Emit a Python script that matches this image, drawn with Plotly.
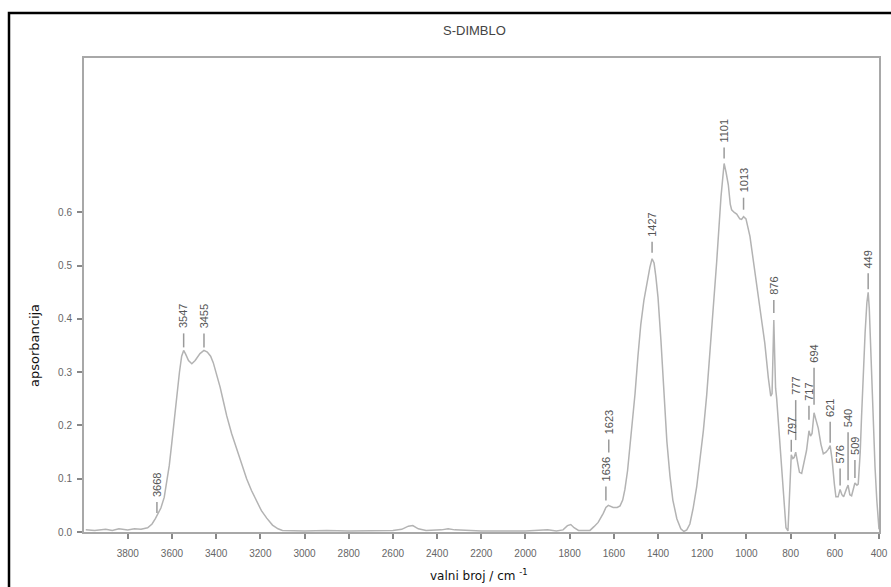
import numpy as np
import plotly.graph_objects as go

# ---------------- data ----------------
wavenumber = [3990, 3950, 3900, 3870, 3840, 3800, 3770, 3740, 3710, 3690, 3675, 3665, 3650, 3635,
              3624, 3612, 3601, 3590, 3578, 3566, 3556, 3547, 3538, 3525, 3510, 3495, 3473, 3455,
              3440, 3425, 3413, 3398, 3382, 3367, 3352, 3330, 3307, 3285, 3262, 3240, 3216, 3195,
              3171, 3145, 3120, 3100, 3000, 2900, 2800, 2700, 2600, 2560, 2530, 2510, 2485, 2450,
              2380, 2350, 2320, 2200, 2100, 2000, 1900, 1860, 1830, 1810, 1795, 1780, 1760, 1730,
              1708, 1690, 1671, 1648, 1636, 1625, 1615, 1603, 1585, 1572, 1560, 1550, 1538, 1527,
              1515, 1504, 1491, 1478, 1464, 1450, 1437, 1427, 1418, 1410, 1400, 1387, 1373, 1360,
              1346, 1333, 1315, 1297, 1283, 1270, 1256, 1241, 1225, 1210, 1195, 1180, 1157, 1135,
              1115, 1101, 1092, 1082, 1073, 1067, 1055, 1044, 1030, 1022, 1013, 1002, 984, 962,
              939, 917, 901, 890, 884, 880, 876, 872, 868, 863, 848, 833, 821, 812, 805, 800,
              797, 790, 784, 777, 770, 760, 750, 740, 728, 717, 710, 703, 694, 685, 675, 663,
              652, 640, 630, 621, 612, 602, 595, 585, 576, 568, 560, 548, 540, 532, 524, 509,
              500, 494, 485, 479, 471, 463, 455, 449, 444, 438, 433, 425, 418, 410, 403, 400]
absorbance = [0.004, 0.003, 0.005, 0.003, 0.006, 0.004, 0.006, 0.005, 0.008, 0.015, 0.025, 0.032, 0.045, 0.065,
              0.090, 0.125, 0.166, 0.210, 0.254, 0.300, 0.330, 0.341, 0.334, 0.322, 0.316, 0.322, 0.335, 0.341,
              0.338, 0.330, 0.318, 0.298, 0.272, 0.245, 0.218, 0.185, 0.155, 0.128, 0.100, 0.078, 0.056, 0.040,
              0.026, 0.013, 0.006, 0.003, 0.002, 0.003, 0.002, 0.002, 0.003, 0.005, 0.011, 0.012, 0.006, 0.003,
              0.004, 0.006, 0.004, 0.002, 0.002, 0.002, 0.004, 0.002, 0.004, 0.012, 0.014, 0.008, 0.003, 0.003,
              0.003, 0.010, 0.018, 0.035, 0.046, 0.050, 0.048, 0.046, 0.046, 0.049, 0.060, 0.080, 0.115, 0.160,
              0.210, 0.260, 0.330, 0.390, 0.435, 0.470, 0.497, 0.513, 0.505, 0.480, 0.440, 0.360, 0.260, 0.170,
              0.105, 0.060, 0.025, 0.006, 0.001, 0.004, 0.015, 0.045, 0.085, 0.135, 0.190, 0.256, 0.380, 0.505,
              0.630, 0.692, 0.675, 0.652, 0.615, 0.605, 0.600, 0.597, 0.588, 0.587, 0.592, 0.588, 0.555, 0.490,
              0.430, 0.355, 0.290, 0.255, 0.260, 0.330, 0.398, 0.330, 0.270, 0.250, 0.160, 0.068, 0.008, 0.002,
              0.060, 0.130, 0.145, 0.138, 0.140, 0.150, 0.132, 0.112, 0.110, 0.130, 0.153, 0.190, 0.180, 0.185,
              0.224, 0.210, 0.195, 0.165, 0.147, 0.150, 0.155, 0.162, 0.135, 0.090, 0.066, 0.066, 0.080, 0.070,
              0.066, 0.080, 0.088, 0.070, 0.068, 0.092, 0.088, 0.090, 0.150, 0.216, 0.300, 0.373, 0.430, 0.450,
              0.420, 0.350, 0.280, 0.200, 0.122, 0.060, 0.012, 0.005]

peak_wn = [3668, 3547, 3455, 1636, 1623, 1427, 1101, 1013, 876, 797, 777, 717, 694, 621, 576, 540, 509, 449]
peak_labels = [str(w) for w in peak_wn]

x_ticks = [3800, 3600, 3400, 3200, 3000, 2800, 2600, 2400, 2200, 2000, 1800, 1600, 1400, 1200, 1000, 800, 600, 400]
y_ticks = [0.0, 0.1, 0.2, 0.3, 0.4, 0.5, 0.6]

title_text = "S-DIMBLO"
x_title = "valni broj / cm <sup>-1</sup>"
y_title = "apsorbancija"

# ---------------- label layout (pixel offsets, styling only) ----------------
label_lift = [3, 3, 3, 7, 53, 6, 5, 7, 7, 3, 12, 11, 8, 3, 4, 5, 5, 3]
label_dash = [11, 14, 14, 14, 13, 11, 11, 12, 13, 12, 40, 14, 37, 21, 17, 48, 18, 16]

fig = go.Figure()
fig.add_trace(go.Scatter(x=wavenumber, y=absorbance, mode="lines",
                         line=dict(color="#b3b3b3", width=1.5), hoverinfo="skip"))

wn_sorted = np.array(wavenumber[::-1], dtype=float)
ab_sorted = np.array(absorbance[::-1], dtype=float)

shapes = []
annotations = []
for w, txt, lift, dl in zip(peak_wn, peak_labels, label_lift, label_dash):
    yv = float(np.interp(w, wn_sorted, ab_sorted))
    shapes.append(dict(type="line", xref="x", yref="y", ysizemode="pixel", yanchor=yv,
                       x0=w, x1=w, y0=lift, y1=lift + dl,
                       line=dict(color="#9a9a9a", width=1.5)))
    annotations.append(dict(x=w, y=yv, xref="x", yref="y", text=txt, showarrow=False,
                            textangle=-90, yanchor="bottom", xanchor="center",
                            yshift=lift + dl + 3,
                            font=dict(family="Liberation Sans, Arial, sans-serif", size=11, color="#555555")))

# outer black frame (extends beyond the visible page on right/bottom)
shapes.append(dict(type="rect", xref="paper", yref="paper",
                   x0=(9 - 84) / 795, x1=1.2, y0=-0.3, y1=(532 - 13) / 474,
                   line=dict(color="black", width=2.5), fillcolor="rgba(0,0,0,0)", layer="above"))

annotations.append(dict(x=(474 - 84) / 795, y=(532 - 30) / 474, xref="paper", yref="paper",
                        text=title_text, showarrow=False, xanchor="center", yanchor="middle",
                        font=dict(family="Liberation Sans Narrow, Arial Narrow, sans-serif", size=13, color="#444444")))
annotations.append(dict(x=(479 - 84) / 795, y=(532 - 575) / 474, xref="paper", yref="paper",
                        text=x_title, showarrow=False, xanchor="center", yanchor="middle",
                        font=dict(family="DejaVu Sans, Verdana, sans-serif", size=12, color="#111111")))
annotations.append(dict(x=(34 - 84) / 795, y=(532 - 346) / 474, xref="paper", yref="paper",
                        text=y_title, showarrow=False, xanchor="center", yanchor="middle", textangle=-90,
                        font=dict(family="DejaVu Sans, Verdana, sans-serif", size=13, color="#111111")))

tickfont = dict(family="Liberation Sans Narrow, Arial Narrow, sans-serif", size=10, color="#666666")
fig.update_layout(
    width=891, height=587,
    margin=dict(l=84, r=12, t=58, b=55, autoexpand=False),
    plot_bgcolor="white", paper_bgcolor="white",
    showlegend=False,
    shapes=shapes, annotations=annotations,
    xaxis=dict(range=[3998, 400], tickvals=x_ticks, ticktext=[str(v) for v in x_ticks],
               ticks="outside", ticklen=5, tickwidth=1.5, tickcolor="#888888", automargin=False,
               showgrid=False, zeroline=False, showline=True, linecolor="#a8a8a8", linewidth=2,
               mirror=True, tickfont=tickfont, ticklabelstandoff=6),
    yaxis=dict(range=[0, 0.89], tickvals=y_ticks, ticktext=["%.1f" % v for v in y_ticks],
               ticks="outside", ticklen=5, tickwidth=1.5, tickcolor="#888888", automargin=False,
               showgrid=False, zeroline=False, showline=True, linecolor="#a8a8a8", linewidth=2,
               mirror=True, tickfont=tickfont, ticklabelstandoff=3),
)

fig.write_html("out.html", config={"displayModeBar": False},
               post_script="document.body.style.margin='0';document.body.style.overflow='hidden';")
